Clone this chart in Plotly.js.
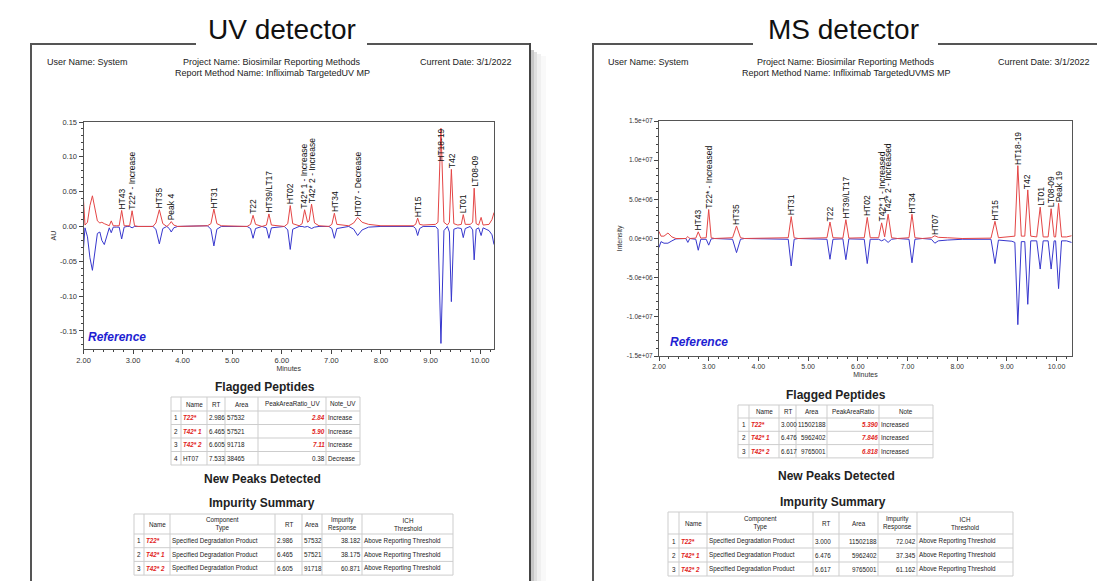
<!DOCTYPE html>
<html><head><meta charset="utf-8">
<script src="https://cdn.plot.ly/plotly-3.0.1.min.js"></script>
<style>html,body{margin:0;padding:0;background:#fff;}#chart{width:1097px;height:581px;}</style>
</head><body><div id="chart"></div>
<script>
// ---------------- UV chromatogram (minutes, AU) ----------------
const uvTime = [2.00,2.03,2.08,2.13,2.18,2.23,2.28,2.33,2.37,2.42,2.47,2.52,2.56,2.60,2.66,2.72,2.77,2.82,2.88,2.93,2.98,3.03,3.10,3.40,3.46,3.53,3.60,3.68,3.73,3.77,3.82,3.90,4.50,4.57,4.63,4.69,4.78,5.30,5.37,5.42,5.47,5.60,5.69,5.74,5.79,6.05,6.12,6.17,6.22,6.35,6.41,6.46,6.52,6.55,6.60,6.66,6.75,6.95,7.01,7.06,7.11,7.35,7.45,7.53,7.62,7.75,8.00,8.65,8.70,8.74,8.78,8.85,9.10,9.15,9.21,9.27,9.34,9.38,9.42,9.47,9.55,9.62,9.66,9.70,9.80,9.85,9.88,9.92,9.97,10.02,10.06,10.12,10.18,10.24,10.28];
const uvSample = [0.038,0.002,0.006,0.030,0.044,0.025,0.008,0.005,0.006,0.004,0.002,0.001,0.008,0.001,0.001,0.001,0.023,0.001,0.001,0.001,0.0225,0.001,0.000,0.000,0.005,0.024,0.004,0.000,0.003,0.007,0.002,0.000,0.001,0.004,0.025,0.004,0.001,0.000,0.003,0.016,0.003,0.000,0.002,0.018,0.002,0.000,0.004,0.030,0.004,0.001,0.004,0.024,0.006,0.008,0.032,0.005,0.001,0.000,0.003,0.019,0.003,0.001,0.005,0.013,0.006,0.003,0.001,0.001,0.003,0.012,0.003,0.002,0.003,0.006,0.141,0.006,0.002,0.006,0.082,0.004,0.002,0.003,0.017,0.003,0.003,0.006,0.055,0.004,0.002,0.013,0.002,0.003,0.003,0.010,0.020];
const uvReference = [-0.031,-0.002,-0.015,-0.045,-0.063,-0.040,-0.010,-0.008,-0.020,-0.026,-0.012,-0.002,-0.009,-0.001,-0.001,-0.001,-0.018,-0.001,0.000,0.000,-0.002,0.000,0.000,0.000,-0.004,-0.025,-0.003,0.000,-0.003,-0.008,-0.002,0.000,0.001,-0.004,-0.028,-0.004,0.000,0.000,-0.003,-0.017,-0.003,0.000,-0.002,-0.017,-0.002,0.000,-0.005,-0.033,-0.004,0.000,0.000,-0.001,0.000,-0.001,-0.003,-0.001,0.000,0.000,-0.003,-0.017,-0.003,0.000,-0.004,-0.013,-0.005,-0.001,0.000,0.000,-0.003,-0.013,-0.003,0.000,0.000,-0.004,-0.168,-0.006,0.000,-0.008,-0.108,-0.004,-0.002,-0.003,-0.016,-0.003,0.000,-0.005,-0.048,-0.004,-0.002,-0.013,-0.002,-0.004,-0.006,-0.012,-0.026];
const uvPeakNames = ['HT43','T22* - Increase','HT35','Peak 4','HT31','T22','HT39/LT17','HT02','T42* 1 - Increase','T42* 2 - Increase','HT34','HT07 - Decrease','HT15','HT18-19','T42','LT01','LT08-09'];
const uvPeakTimes = [2.77,2.98,3.53,3.77,4.63,5.42,5.74,6.17,6.46,6.60,7.06,7.53,8.74,9.21,9.42,9.66,9.88];
const uvYTickVals = [0.15,0.10,0.05,0.00,-0.05,-0.10,-0.15];
const uvYTickText = ['0.15','0.10','0.05','0.00','-0.05','-0.10','-0.15'];

// ---------------- MS chromatogram (minutes, intensity) ----------------
const msTime = [2.00,2.04,2.10,2.18,2.26,2.34,2.54,2.58,2.62,2.74,2.79,2.84,2.95,3.00,3.05,3.12,3.48,3.56,3.64,3.72,4.60,4.66,4.72,4.80,5.38,5.44,5.50,5.70,5.76,5.82,6.13,6.19,6.25,6.42,6.48,6.54,6.61,6.68,6.80,7.03,7.09,7.15,7.30,7.48,7.55,7.62,7.80,8.10,8.68,8.76,8.83,8.95,9.10,9.16,9.22,9.29,9.36,9.42,9.48,9.60,9.67,9.73,9.83,9.89,9.95,9.98,10.04,10.10,10.20,10.30];
const msSample = [900000,300000,300000,700000,200000,0,0,250000,0,50000,850000,50000,100000,3700000,100000,0,100000,1600000,100000,0,100000,2800000,100000,0,100000,2100000,100000,50000,2400000,50000,100000,2700000,100000,100000,2000000,200000,3100000,100000,0,100000,3100000,100000,0,100000,350000,150000,100000,0,50000,2200000,100000,200000,250000,300000,9300000,300000,300000,6200000,300000,200000,4000000,200000,200000,3800000,200000,200000,4500000,200000,200000,350000];
const msReference = [-1150000,-400000,-600000,-600000,-300000,-50000,0,-500000,0,-100000,-1500000,-100000,-100000,-850000,-50000,0,-100000,-1800000,-100000,0,-100000,-3500000,-100000,0,-100000,-2650000,-100000,-50000,-2700000,-50000,-100000,-3200000,-100000,-100000,-300000,-100000,-500000,-100000,0,-100000,-3100000,-100000,0,-100000,-600000,-300000,-200000,-100000,-100000,-3200000,-200000,-300000,-350000,-500000,-11000000,-400000,-400000,-8400000,-300000,-300000,-3900000,-300000,-300000,-3900000,-300000,-300000,-6400000,-300000,-300000,-500000];
const msPeakNames = ['HT43','T22* - Increased','HT35','HT31','T22','HT39/LT17','HT02','T42* 1 - Increased','T42* 2 - Increased','HT34','HT07','HT15','HT18-19','T42','LT01','LT08-09','Peak 19'];
const msPeakTimes = [2.79,3.00,3.56,4.66,5.44,5.76,6.19,6.48,6.61,7.09,7.55,8.76,9.22,9.42,9.67,9.89,10.04];
const msYTickVals = [15000000,10000000,5000000,0,-5000000,-10000000,-15000000];
const msYTickText = ['1.5e+07','1.0e+07','5.0e+06','0.0e+00','-5.0e+06','-1.0e+07','-1.5e+07'];

// ---------------- tables ----------------
const uvFlagHeader = ['', 'Name', 'RT', 'Area', 'PeakAreaRatio_UV', 'Note_UV'];
const uvFlagIndex = ['1','2','3','4'];
const uvFlagName = ['T22*','T42* 1','T42* 2','HT07'];
const uvFlagRT = ['2.986','6.465','6.605','7.533'];
const uvFlagArea = ['57532','57521','91718','38465'];
const uvFlagRatio = ['2.84','5.90','7.11','0.38'];
const uvFlagNote = ['Increase','Increase','Increase','Decrease'];
const uvFlagFlag = [true,true,true,false];

const impHeader = ['', 'Name', 'Component<br>Type', 'RT', 'Area', 'Impurity<br>Response', 'ICH<br>Threshold'];
const uvImpIndex = ['1','2','3'];
const uvImpName = ['T22*','T42* 1','T42* 2'];
const uvImpType = ['Specified Degradation Product','Specified Degradation Product','Specified Degradation Product'];
const uvImpRT = ['2.986','6.465','6.605'];
const uvImpArea = ['57532','57521','91718'];
const uvImpResp = ['38.182','38.175','60.871'];
const uvImpICH = ['Above Reporting Threshold','Above Reporting Threshold','Above Reporting Threshold'];

const msFlagHeader = ['', 'Name', 'RT', 'Area', 'PeakAreaRatio', 'Note'];
const msFlagIndex = ['1','2','3'];
const msFlagName = ['T22*','T42* 1','T42* 2'];
const msFlagRT = ['3.000','6.476','6.617'];
const msFlagArea = ['11502188','5962402','9765001'];
const msFlagRatio = ['5.390','7.846','6.818'];
const msFlagNote = ['Increased','Increased','Increased'];
const msFlagFlag = [true,true,true];

const msImpIndex = ['1','2','3'];
const msImpName = ['T22*','T42* 1','T42* 2'];
const msImpType = ['Specified Degradation Product','Specified Degradation Product','Specified Degradation Product'];
const msImpRT = ['3.000','6.476','6.617'];
const msImpArea = ['11502188','5962402','9765001'];
const msImpResp = ['72.042','37.345','61.162'];
const msImpICH = ['Above Reporting Threshold','Above Reporting Threshold','Above Reporting Threshold'];

// ---------------- drawing ----------------
const W = 1097, H = 581;
const px = v => v / W;
const py = v => 1 - v / H;
const FONT = 'Arial, "Liberation Sans", sans-serif';
const RED = 'rgb(228,70,70)';
const BLUE = 'rgb(55,55,205)';
const FLAGRED = 'rgb(225,30,30)';
const DARK = '#222';

const traces = [
  {type:'scatter', mode:'lines', x: uvTime, y: uvReference, xaxis:'x', yaxis:'y', line:{color:BLUE, width:1}, hoverinfo:'skip'},
  {type:'scatter', mode:'lines', x: uvTime, y: uvSample, xaxis:'x', yaxis:'y', line:{color:RED, width:1}, hoverinfo:'skip'},
  {type:'scatter', mode:'lines', x: msTime, y: msReference, xaxis:'x2', yaxis:'y2', line:{color:BLUE, width:1}, hoverinfo:'skip'},
  {type:'scatter', mode:'lines', x: msTime, y: msSample, xaxis:'x2', yaxis:'y2', line:{color:RED, width:1}, hoverinfo:'skip'}
];

const annotations = [];
const shapes = [];
function txt(x, y, text, size, opts) {
  annotations.push(Object.assign({xref:'paper', yref:'paper', x:px(x), y:py(y), text:text, showarrow:false,
    font:{family:FONT, size:size, color:DARK}, xanchor:'center', yanchor:'middle', borderpad:0, borderwidth:0}, opts || {}));
}
function line(x0, y0, x1, y1, color, width) {
  shapes.push({type:'line', xref:'paper', yref:'paper', x0:px(x0), y0:py(y0), x1:px(x1), y1:py(y1),
    line:{color:color, width:width}, layer:'below'});
}
function rect(x0, y0, x1, y1, color) {
  shapes.push({type:'rect', xref:'paper', yref:'paper', x0:px(x0), y0:py(y0), x1:px(x1), y1:py(y1),
    line:{width:0}, fillcolor:color, layer:'below'});
}

// table built from column arrays: grid lines as shapes, cell texts as annotations
function drawTable(x0, widths, y0, hH, rH, header, cols, aligns, flagCols, flags, fs) {
  const GRID = '#cdcdcd';
  const PAD = 1.5;
  const nRows = cols[0].length;
  const xs = [x0];
  widths.forEach(w => xs.push(xs[xs.length - 1] + w));
  const ys = [y0, y0 + hH];
  for (let r = 0; r < nRows; r++) ys.push(ys[ys.length - 1] + rH);
  const xEnd = xs[xs.length - 1], yEnd = ys[ys.length - 1];
  ys.forEach(y => line(x0, y, xEnd, y, GRID, 1));
  xs.forEach(x => line(x, y0, x, yEnd, GRID, 1));
  header.forEach((h, c) => {
    txt((xs[c] + xs[c + 1]) / 2, y0 + hH / 2, h, fs, {font:{family:FONT, size:fs, color:DARK}});
  });
  cols.forEach((col, c) => {
    col.forEach((v, r) => {
      const yc = ys[r + 1] + rH / 2;
      const flagged = flagCols[c] && flags[r];
      const text = flagged ? '<b><i>' + v + '</i></b>' : v;
      const color = flagged ? FLAGRED : DARK;
      let x, anchor;
      if (aligns[c] === 'left') { x = xs[c] + PAD; anchor = 'left'; }
      else if (aligns[c] === 'right') { x = xs[c + 1] - PAD; anchor = 'right'; }
      else { x = (xs[c] + xs[c + 1]) / 2; anchor = 'center'; }
      txt(x, yc, text, fs, {xanchor:anchor, font:{family:FONT, size:fs, color:color}});
    });
  });
}

const TFS = 6.3;
drawTable(171, [10, 26, 18, 33, 68, 34], 397, 14, 13.5, uvFlagHeader,
  [uvFlagIndex, uvFlagName, uvFlagRT, uvFlagArea, uvFlagRatio, uvFlagNote],
  ['center','left','left','left','right','left'], [false,true,false,false,true,false], uvFlagFlag, TFS);

drawTable(134, [10, 26, 105, 27, 20, 40, 91], 514, 20, 13.7, impHeader,
  [uvImpIndex, uvImpName, uvImpType, uvImpRT, uvImpArea, uvImpResp, uvImpICH],
  ['center','left','left','left','left','right','left'], [false,true,false,false,false,false,false], [true,true,true], TFS);

drawTable(738, [11, 30, 17, 31, 52, 54], 405, 13, 13.3, msFlagHeader,
  [msFlagIndex, msFlagName, msFlagRT, msFlagArea, msFlagRatio, msFlagNote],
  ['center','left','left','right','right','left'], [false,true,false,false,true,false], msFlagFlag, TFS);

drawTable(668, [11, 28, 106, 26, 39, 39, 96], 512, 22, 14, impHeader,
  [msImpIndex, msImpName, msImpType, msImpRT, msImpArea, msImpResp, msImpICH],
  ['center','left','left','left','right','right','left'], [false,true,false,false,false,false,false], [true,true,true], TFS);

// axes
function xAxis(domain, range, anchor, fs) {
  return {domain: domain, range: range, anchor: anchor, dtick: 1, tick0: 2, tickformat: '.2f',
    ticks:'outside', ticklen:4, tickwidth:1, tickcolor:'#444', showline:true, linecolor:'#555', linewidth:1,
    mirror:true, showgrid:false, zeroline:false, tickfont:{family:FONT, size:fs, color:'#333'},
    minor:{ticks:'outside', ticklen:2, dtick:0.2, tickcolor:'#444', showgrid:false},
    title:{text:'Minutes', font:{family:FONT, size:7, color:'#333'}, standoff:2}};
}
function yAxis(domain, range, anchor, vals, text, minorDtick, title, fs, standoff) {
  return {domain: domain, range: range, anchor: anchor, tickvals: vals, ticktext: text,
    ticks:'outside', ticklen:4, tickwidth:1, tickcolor:'#444', showline:true, linecolor:'#555', linewidth:1,
    mirror:true, showgrid:false, zeroline:false, tickfont:{family:FONT, size:fs, color:'#333'},
    minor:{ticks:'outside', ticklen:2, dtick:minorDtick, tickcolor:'#444', showgrid:false},
    title:{text:title, font:{family:FONT, size:7, color:'#333'}, standoff:standoff}};
}

const uvYRange = [-0.176, 0.15];
const msYRange = [-15000000, 15000000];
const uvDom = {x:[px(83.5), px(494)], y:[py(349), py(122)]};
const msDom = {x:[px(659), px(1072)], y:[py(356), py(121)]};

// page titles
txt(282, 29, 'UV detector', 28, {font:{family:FONT, size:28, color:'#111'}});
txt(843, 29, 'MS detector', 28, {font:{family:FONT, size:28, color:'#111'}});
// headers
txt(47, 62, 'User Name: System', 9, {xanchor:'left'});
txt(272, 62, 'Project Name: Biosimilar Reporting Methods', 9);
txt(272, 73, 'Report Method Name: Infliximab TargetedUV MP', 9);
txt(512, 62, 'Current Date: 3/1/2022', 9, {xanchor:'right'});
txt(608, 62, 'User Name: System', 9, {xanchor:'left'});
txt(846, 62, 'Project Name: Biosimilar Reporting Methods', 9);
txt(846, 73, 'Report Method Name: Infliximab TargetedUVMS MP', 9);
txt(1090, 62, 'Current Date: 3/1/2022', 9, {xanchor:'right'});
// section titles
txt(265, 387, '<b>Flagged Peptides</b>', 12);
txt(262, 479, '<b>New Peaks Detected</b>', 12);
txt(262, 503, '<b>Impurity Summary</b>', 12);
txt(836, 395, '<b>Flagged Peptides</b>', 12);
txt(836, 476, '<b>New Peaks Detected</b>', 12);
txt(833, 502, '<b>Impurity Summary</b>', 12);
// Reference tags
txt(88, 337, '<b><i>Reference</i></b>', 12, {xanchor:'left', font:{family:FONT, size:12, color:'rgb(30,30,210)'}});
txt(670, 342, '<b><i>Reference</i></b>', 12, {xanchor:'left', font:{family:FONT, size:12, color:'rgb(30,30,210)'}});

// peak labels
function peakLabels(names, times, tArr, sArr, xref, yref, yRange, dom) {
  const plotH = (dom.y[1] - dom.y[0]) * H;
  const fs = 8.5;
  names.forEach((n, k) => {
    let best = 0;
    tArr.forEach((t, i) => { if (Math.abs(t - times[k]) < Math.abs(tArr[best] - times[k])) best = i; });
    const apex = sArr[best];
    const apexFromTop = (yRange[1] - apex) / (yRange[1] - yRange[0]) * plotH;
    const labelLen = n.length * 0.5 * fs + 3;
    const fits = apexFromTop > labelLen;
    annotations.push({xref:xref, yref:yref, x:times[k], y:apex, text:n, textangle:-90, showarrow:false,
      xanchor:'center', yanchor: fits ? 'bottom' : 'top', yshift: fits ? 1 : 0, borderpad:0, borderwidth:0,
      font:{family:FONT, size:fs, color:'#111'}});
  });
}
peakLabels(uvPeakNames, uvPeakTimes, uvTime, uvSample, 'x', 'y', uvYRange, uvDom);
peakLabels(msPeakNames, msPeakTimes, msTime, msSample, 'x2', 'y2', msYRange, msDom);

// page frames and shadow
rect(531, 50, 534, 581, 'rgba(0,0,0,0.22)');
rect(534, 52, 537, 581, 'rgba(0,0,0,0.12)');
rect(537, 54, 541, 581, 'rgba(0,0,0,0.06)');
rect(541, 56, 546, 581, 'rgba(0,0,0,0.025)');
line(31, 44, 31, 581, '#555', 2);
line(30, 44, 196, 44, '#555', 2);
line(367, 44, 531, 44, '#555', 2);
line(530, 43, 530, 581, '#444', 2);
line(593, 44, 593, 581, '#555', 2);
line(592, 44, 753, 44, '#555', 2);
line(938, 44, 1097, 44, '#555', 2);

const layout = {
  width: W, height: H, margin:{l:0, r:0, t:0, b:0}, paper_bgcolor:'white', plot_bgcolor:'white',
  showlegend:false, font:{family:FONT},
  xaxis: xAxis(uvDom.x, [2, 10.28], 'y', 7.5),
  yaxis: yAxis(uvDom.y, uvYRange, 'x', uvYTickVals, uvYTickText, 0.01, 'AU', 7.5, 2),
  xaxis2: xAxis(msDom.x, [2, 10.31], 'y2', 7),
  yaxis2: yAxis(msDom.y, msYRange, 'x2', msYTickVals, msYTickText, 1000000, 'Intensity', 6.5, 3),
  annotations: annotations,
  shapes: shapes
};

Plotly.newPlot('chart', traces, layout, {displayModeBar:false, staticPlot:true});
</script>
</body></html>
